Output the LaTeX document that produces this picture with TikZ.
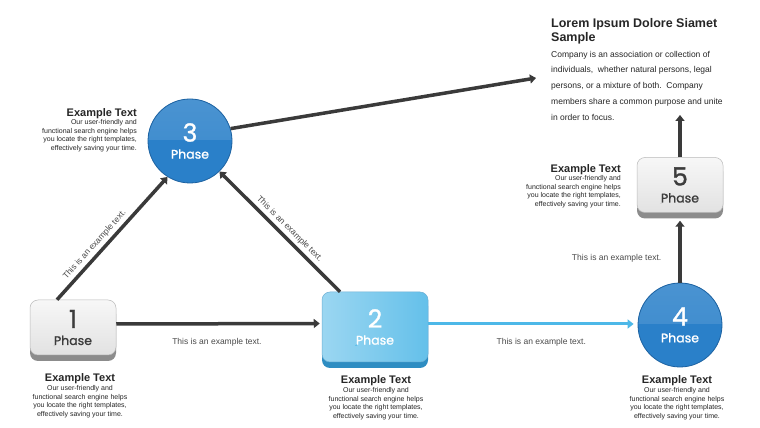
\documentclass[tikz,border=0pt]{standalone}
\usepackage{fontspec}
\setmainfont{Liberation Sans}
\newfontfamily\phasefont{Poppins}[FakeBold=1.2]
\usetikzlibrary{arrows.meta}

\definecolor{linegrey}{HTML}{3A3A3A}
\definecolor{labelgrey}{HTML}{4A4A4A}
\definecolor{keyface}{HTML}{CACACA}
\definecolor{keyedge}{HTML}{8C8C8C}
\definecolor{keytext}{HTML}{3C3C3C}
\definecolor{skyface}{HTML}{49B5E6}
\definecolor{skyedge}{HTML}{2E8DC2}
\definecolor{ballface}{HTML}{2A80C9}
\definecolor{balledge}{HTML}{1D62A1}
\definecolor{flowblue}{HTML}{4DB8E8}

\newcommand\capthead{\fontsize{11}{12}\selectfont\bfseries}
\newcommand\loremhead{\fontsize{12.5}{14}\selectfont\bfseries}
\newcommand\phasenum[1]{\fontsize{25}{25}\selectfont #1\\[5pt]\fontsize{12.5}{14}\selectfont Phase}

\tikzset{
  phase/.style={align=center, font=\phasefont, inner sep=0pt},
  greykey/.style={phase, rounded corners=8pt, minimum width=86pt, minimum height=55pt,
    top color=keyface!15!white, bottom color=keyface!55!white, text=keytext, draw=keyedge!60, line width=.5pt,
    preaction={fill=keyedge, draw=none, transform canvas={yshift=-6pt}},
    path picture={\begin{scope}[shift={(path picture bounding box.center)}, xscale=43, yscale=27.5]
      \fill[keyface!85!white, sharp corners] (-1.1,-1.1) -- (-1.1,-0.9)
        .. controls (-0.6,-0.1) and (0,0.2) .. (1.1,0.3) -- (1.1,-1.1) -- cycle;
    \end{scope}}},
  bluekey/.style={phase, rounded corners=8pt, minimum width=106pt, minimum height=70pt,
    left color=skyface!55!white, right color=skyface!85!white, text=white, draw=skyedge!70, line width=.5pt,
    preaction={fill=skyedge, draw=none, transform canvas={yshift=-6pt}},
    path picture={\begin{scope}[shift={(path picture bounding box.center)}, xscale=53, yscale=35]
      \fill[skyface, sharp corners] (-1.1,-1.1) -- (-1.1,-0.94)
        .. controls (-0.6,-0.1) and (0,0.4) .. (1.1,0.49) -- (1.1,-1.1) -- cycle;
    \end{scope}}},
  ball/.style={phase, circle, minimum size=84pt, text=white, draw=balledge, line width=.8pt, fill=ballface,
    path picture={\shade[top color=ballface!85!white, bottom color=ballface!93!white]
      (path picture bounding box.north west) rectangle ([yshift=1pt]path picture bounding box.east);}},
  arr/.style={draw=linegrey, line width=3.5pt, -{Triangle[length=6pt,width=9pt]}},
  bluearr/.style={draw=flowblue, line width=3pt, -{Triangle[length=6pt,width=9pt]}},
  flowtext/.style={font=\fontsize{8.5}{10}\selectfont, text=labelgrey, inner sep=3pt},
  caption/.style={align=center, font=\fontsize{7}{8.5}\selectfont, text=black!85, inner sep=0pt},
}

\begin{document}
\begin{tikzpicture}[x=1pt, y=1pt]
  \useasboundingbox (0,0) rectangle (760,428);
  \fill[white] (0,0) rectangle (760,428);

  \node[greykey] (n1) at (73,100.5) {\phasenum{1}};
  \node[bluekey] (n2) at (375,101) {\phasenum{2}};
  \node[ball] (n3) at (190,287) {\phasenum{3}};
  \node[ball] (n4) at (680,103) {\phasenum{4}};
  \node[greykey] (n5) at (680,243) {\phasenum{5}};
  \coordinate (lorem) at (536,350);
  \coordinate (up) at (680,313);

  \draw[arr] ([xshift=-16pt]n1.north) -- (n3.238)
    node[flowtext, sloped, above, pos=.4] (l13) {This is an example text.};
  \draw[arr, shorten >=2pt] ([yshift=3.5pt]n1.east) -- ([yshift=3.5pt]n2.west)
    node[flowtext, below=10pt, pos=.49] (l12) {This is an example text.};
  \draw[arr] ([xshift=-35pt]n2.north) -- (n3.314)
    node[flowtext, sloped, above, pos=.47] (l23) {This is an example text.};
  \draw[bluearr, shorten >=4pt] ([yshift=3pt]n2.east) -- ([yshift=1pt]n4.west)
    node[flowtext, below=10pt, pos=.54] (l24) {This is an example text.};
  \draw[arr, shorten >=2pt] (n4.north) -- ([yshift=-6pt]n5.south)
    node[flowtext, left=14pt, pos=.38] (l45) {This is an example text.};
  \draw[arr] (n5.north) -- (up);
  \draw[arr] (n3.17) -- (lorem);

  \node[caption, anchor=north] (c1) at (80,55) {{\capthead Example Text}\\[1pt]Our user-friendly and\\functional search engine helps\\you locate the right templates,\\effectively saving your time.};
  \node[caption, anchor=north] (c2) at (376,53) {{\capthead Example Text}\\[1pt]Our user-friendly and\\functional search engine helps\\you locate the right templates,\\effectively saving your time.};
  \node[caption, anchor=north] (c4) at (677,53) {{\capthead Example Text}\\[1pt]Our user-friendly and\\functional search engine helps\\you locate the right templates,\\effectively saving your time.};
  \node[caption, align=right, anchor=north east] (c3) at (137,320) {{\capthead Example Text}\\Our user-friendly and\\functional search engine helps\\you locate the right templates,\\effectively saving your time.};
  \node[caption, align=right, anchor=north east] (c5) at (621,264) {{\capthead Example Text}\\Our user-friendly and\\functional search engine helps\\you locate the right templates,\\effectively saving your time.};

  \node[anchor=north west, align=left, inner sep=0pt, text=black!85, font=\fontsize{8.5}{15.8}\selectfont] (blurb) at (551,410)
    {{\loremhead Lorem Ipsum Dolore Siamet}\\[-1.8pt]{\loremhead Sample}\\
     Company is an association or collection of\\
     individuals,\ \ whether natural persons, legal\\
     persons, or a mixture of both.\ \ Company\\
     members share a common purpose and unite\\
     in order to focus.};
\end{tikzpicture}
\end{document}
